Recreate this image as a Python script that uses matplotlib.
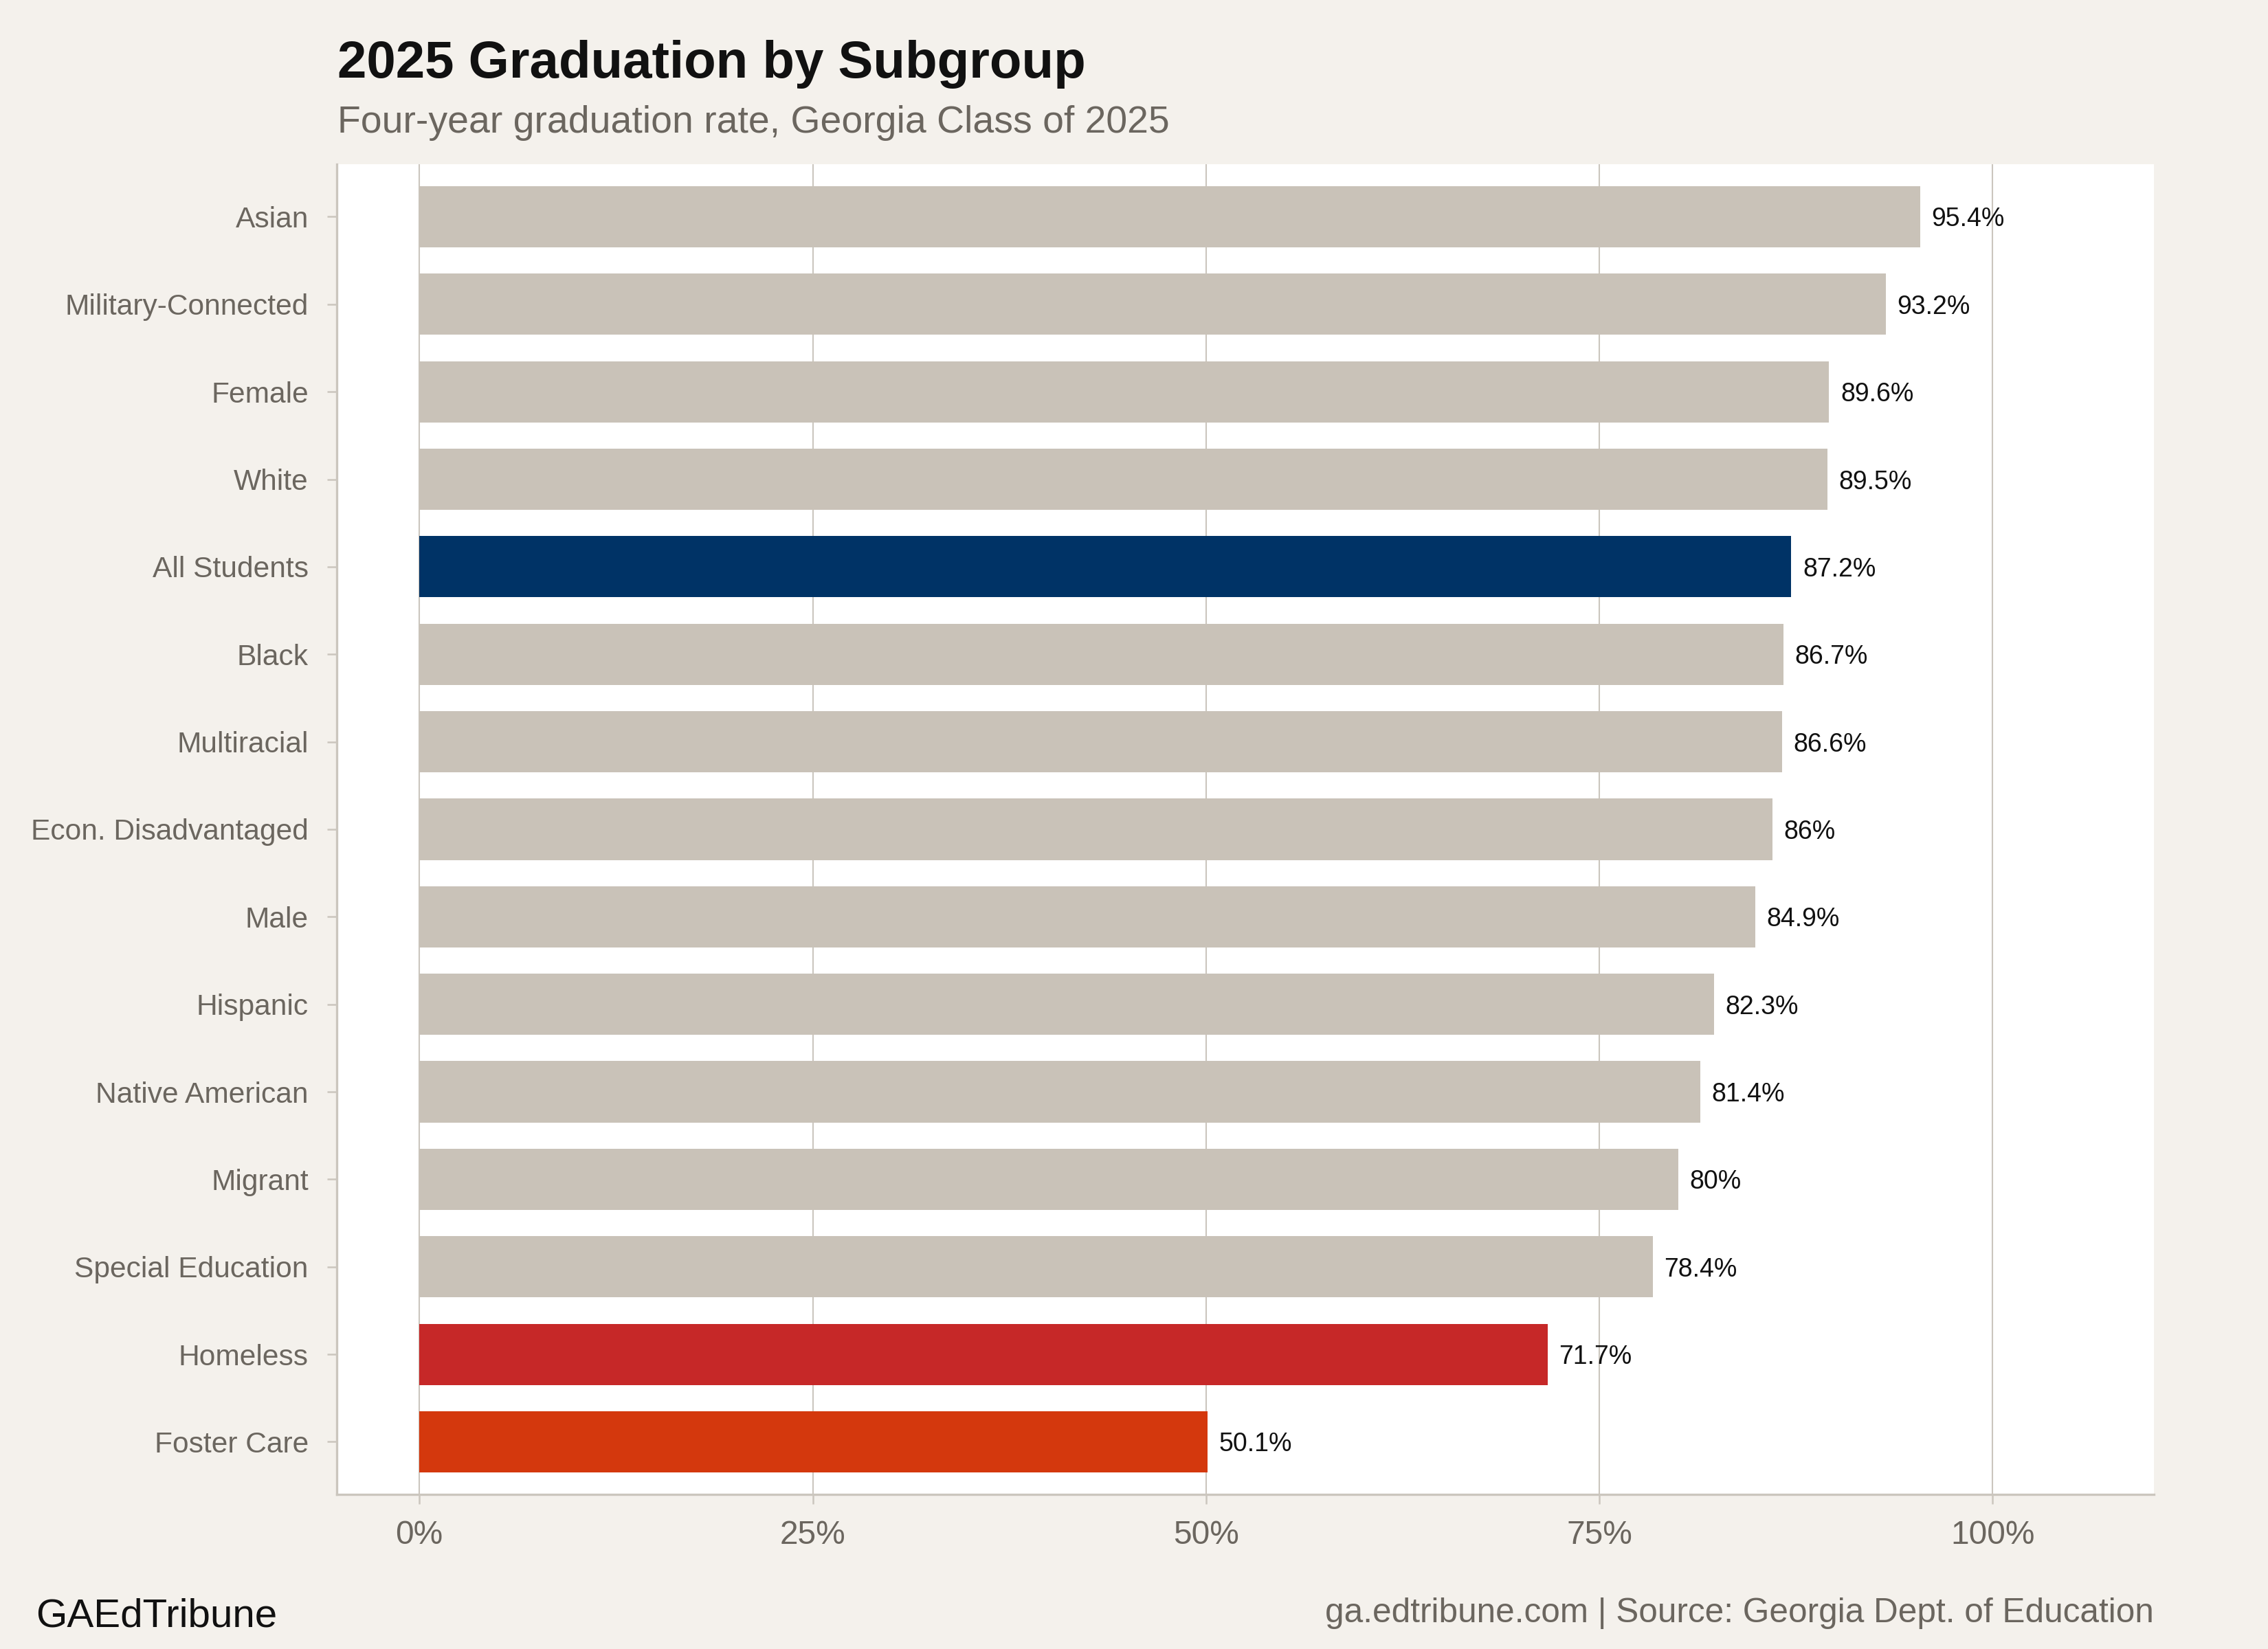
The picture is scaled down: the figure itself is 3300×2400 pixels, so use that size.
import matplotlib
matplotlib.use('Agg')
import matplotlib.pyplot as plt
from matplotlib.ticker import FixedLocator, FuncFormatter

plt.rcParams['font.family'] = ['Liberation Sans', 'DejaVu Sans']

# data, top to bottom as shown
groups = ['Asian', 'Military-Connected', 'Female', 'White', 'All Students',
          'Black', 'Multiracial', 'Econ. Disadvantaged', 'Male', 'Hispanic',
          'Native American', 'Migrant', 'Special Education', 'Homeless',
          'Foster Care']
rates = [95.4, 93.2, 89.6, 89.5, 87.2, 86.7, 86.6, 86.0, 84.9, 82.3,
         81.4, 80.0, 78.4, 71.7, 50.1]
x_ticks = [0, 25, 50, 75, 100]

BG = '#f4f1ec'
GRAY_BAR = '#c9c2b8'
HIGHLIGHT = {'All Students': '#003366', 'Homeless': '#c62828',
             'Foster Care': '#d4380d'}
TEXT_GRAY = '#6b665f'
LINE_GRAY = '#cbc6be'

fig = plt.figure(figsize=(11, 8), dpi=300, facecolor=BG)
ax = fig.add_axes([0.1485, 0.0938, 0.8012, 0.8066])
ax.set_facecolor('white')

n = len(groups)
ypos = list(range(n, 0, -1))
colors = [HIGHLIGHT.get(g, GRAY_BAR) for g in groups]
ax.barh(ypos, rates, height=0.7, color=colors, zorder=2)

# value labels just past the bar ends
for y, v in zip(ypos, rates):
    ax.annotate(f'{v:g}%', (v, y), xytext=(4, 0), textcoords='offset points',
                va='center_baseline', ha='left', fontsize=9, color='#111111',
                zorder=3)

ax.set_xlim(-5.25, 110.25)
ax.set_ylim(0.4, n + 0.6)
ax.set_yticks(ypos)
ax.set_yticklabels(groups)
ax.xaxis.set_major_locator(FixedLocator(x_ticks))
ax.xaxis.set_major_formatter(FuncFormatter(lambda v, p: f'{v:.0f}%'))

ax.grid(axis='x', color=LINE_GRAY, linewidth=0.5, zorder=0)
ax.grid(axis='y', visible=False)
ax.set_axisbelow(True)

for s in ['top', 'right']:
    ax.spines[s].set_visible(False)
for s in ['left', 'bottom']:
    ax.spines[s].set_color(LINE_GRAY)
    ax.spines[s].set_linewidth(0.8)

ax.tick_params(axis='y', length=3.4, width=0.6, color=LINE_GRAY, pad=6.5,
               labelsize=10.2, labelcolor=TEXT_GRAY)
ax.tick_params(axis='x', length=3.4, width=0.6, color=LINE_GRAY, pad=5.5,
               labelsize=11.5, labelcolor=TEXT_GRAY)

fig.text(0.1488, 1 - 113 / 2400, '2025 Graduation by Subgroup',
         fontsize=18.3, fontweight='bold', color='#111111', va='baseline')
fig.text(0.1488, 1 - 193 / 2400,
         'Four-year graduation rate, Georgia Class of 2025',
         fontsize=13.3, color=TEXT_GRAY, va='baseline')

fig.text(52 / 3300, 1 - 2367 / 2400, 'GAEdTribune', fontsize=14,
         color='#111111', va='baseline')
fig.text(3134 / 3300, 1 - 2361 / 2400,
         'ga.edtribune.com | Source: Georgia Dept. of Education',
         fontsize=11.9, color=TEXT_GRAY, ha='right', va='baseline')

fig.savefig('out.png', dpi=300, facecolor=BG)
